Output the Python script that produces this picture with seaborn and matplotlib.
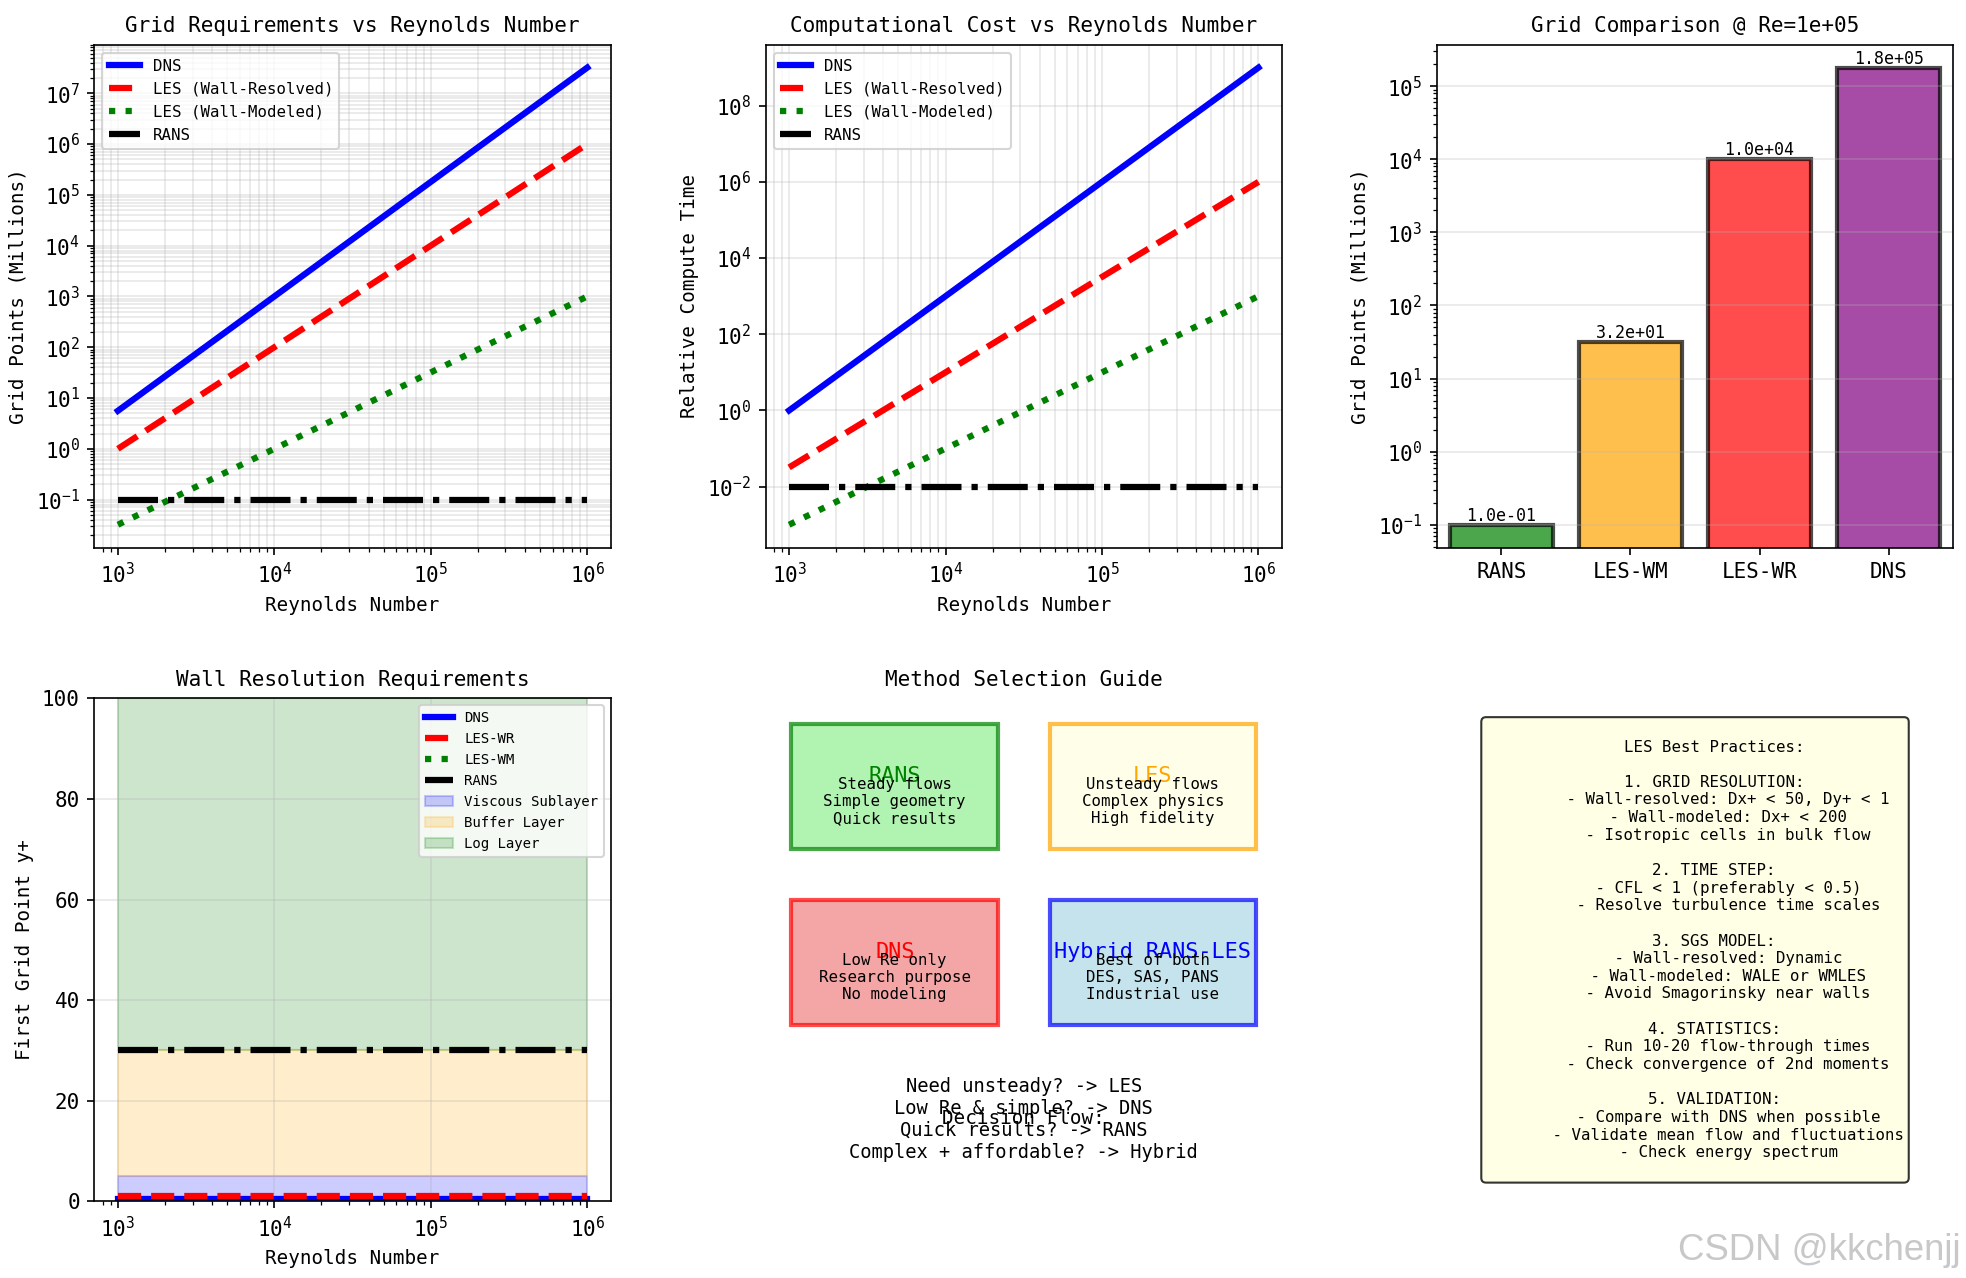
import matplotlib
matplotlib.use('Agg')
import matplotlib.pyplot as plt
from matplotlib import font_manager
from matplotlib.patches import Rectangle
import seaborn as sns

# ==========================================
# DATA
# ==========================================
re_pts = [1e3, 1e4, 1e5, 1e6]

# grid points in millions
grid_dns = [5.6, 1.0e3, 1.8e5, 3.2e7]
grid_les_wr = [1.0, 1.0e2, 1.0e4, 1.0e6]
grid_les_wm = [0.032, 1.0, 32.0, 1.0e3]
grid_rans = [0.1, 0.1, 0.1, 0.1]

# relative compute time
cost_dns = [1.0, 1.0e3, 1.0e6, 1.0e9]
cost_les_wr = [0.032, 10.0, 3.2e3, 1.0e6]
cost_les_wm = [1.0e-3, 0.1, 10.0, 1.0e3]
cost_rans = [0.01, 0.01, 0.01, 0.01]

# grid comparison at Re = 1e5
bar_methods = ['RANS', 'LES-WM', 'LES-WR', 'DNS']
bar_values = [0.1, 32.0, 1.0e4, 1.8e5]
bar_colors = ['green', 'orange', 'red', 'purple']

# first grid point y+
yplus_dns = [0.5, 0.5, 0.5, 0.5]
yplus_les_wr = [1.0, 1.0, 1.0, 1.0]
yplus_les_wm = [150.0, 150.0, 150.0, 150.0]
yplus_rans = [30.0, 30.0, 30.0, 30.0]
layer_names = ['Viscous Sublayer', 'Buffer Layer', 'Log Layer']
layer_bounds = [(0, 5), (5, 30), (30, 100)]
layer_colors = ['blue', 'orange', 'green']

# method selection guide
guide_names = ['RANS', 'LES', 'DNS', 'Hybrid RANS-LES']
guide_desc = ['Steady flows\nSimple geometry\nQuick results',
              'Unsteady flows\nComplex physics\nHigh fidelity',
              'Low Re only\nResearch purpose\nNo modeling',
              'Best of both\nDES, SAS, PANS\nIndustrial use']
guide_face = ['lightgreen', 'lightyellow', 'lightcoral', 'lightblue']
guide_edge = ['green', 'orange', 'red', 'blue']
guide_xy = [(0.5, 7), (5.5, 7), (0.5, 3.5), (5.5, 3.5)]
decision_text = ('Need unsteady? -> LES\nLow Re & simple? -> DNS\n'
                 'Quick results? -> RANS\nComplex + affordable? -> Hybrid')

practices = """
    LES Best Practices:

    1. GRID RESOLUTION:
       - Wall-resolved: Dx+ < 50, Dy+ < 1
       - Wall-modeled: Dx+ < 200
       - Isotropic cells in bulk flow

    2. TIME STEP:
       - CFL < 1 (preferably < 0.5)
       - Resolve turbulence time scales

    3. SGS MODEL:
       - Wall-resolved: Dynamic
       - Wall-modeled: WALE or WMLES
       - Avoid Smagorinsky near walls

    4. STATISTICS:
       - Run 10-20 flow-through times
       - Check convergence of 2nd moments

    5. VALIDATION:
       - Compare with DNS when possible
       - Validate mean flow and fluctuations
       - Check energy spectrum
    """

# ==========================================
# FONTS
# ==========================================
names = {f.name for f in font_manager.fontManager.ttflist}
if 'Noto Sans Mono CJK SC' in names:
    main_font, k = 'Noto Sans Mono CJK SC', 1.0
else:
    main_font, k = 'DejaVu Sans Mono', 0.84
plt.rcParams['font.family'] = [main_font, 'DejaVu Sans']

fig, axes = plt.subplots(2, 3, figsize=(13.113, 8.52))
plt.subplots_adjust(left=0.048, right=0.993, bottom=0.06, top=0.965,
                    wspace=0.30, hspace=0.30)

styles = [('DNS', 'blue', '-'), ('LES (Wall-Resolved)', 'red', '--'),
          ('LES (Wall-Modeled)', 'green', ':'), ('RANS', 'black', '-.')]

# 1. grid requirements
ax = axes[0, 0]
for (lab, col, ls), vals in zip(styles, [grid_dns, grid_les_wr, grid_les_wm, grid_rans]):
    sns.lineplot(x=re_pts, y=vals, ax=ax, color=col, linestyle=ls, linewidth=3, label=lab)
ax.set_xscale('log')
ax.set_yscale('log')
ax.set_xlabel('Reynolds Number', fontsize=11 * k)
ax.set_ylabel('Grid Points (Millions)', fontsize=11 * k)
ax.set_title('Grid Requirements vs Reynolds Number', fontsize=12 * k)
ax.legend(fontsize=9 * k, loc='upper left')
ax.grid(True, which='both', alpha=0.3)

# 2. computational cost
ax = axes[0, 1]
for (lab, col, ls), vals in zip(styles, [cost_dns, cost_les_wr, cost_les_wm, cost_rans]):
    sns.lineplot(x=re_pts, y=vals, ax=ax, color=col, linestyle=ls, linewidth=3, label=lab)
ax.set_xscale('log')
ax.set_yscale('log')
ax.set_xlabel('Reynolds Number', fontsize=11 * k)
ax.set_ylabel('Relative Compute Time', fontsize=11 * k)
ax.set_title('Computational Cost vs Reynolds Number', fontsize=12 * k)
ax.legend(fontsize=9 * k, loc='upper left')
ax.grid(True, which='both', alpha=0.3)

# 3. grid comparison bars
ax = axes[0, 2]
sns.barplot(x=bar_methods, y=bar_values, hue=bar_methods, palette=bar_colors,
            saturation=1, legend=False, alpha=0.7, edgecolor='black', linewidth=2, ax=ax)
ax.set_yscale('log')
for i, v in enumerate(bar_values):
    ax.text(i, v, f'{v:.1e}', ha='center', va='bottom', fontsize=9.5 * k)
ax.set_ylabel('Grid Points (Millions)', fontsize=11 * k)
ax.set_title('Grid Comparison @ Re=1e+05', fontsize=12 * k)
ax.grid(True, axis='y', alpha=0.3)

# 4. wall resolution
ax = axes[1, 0]
yp_labels = ['DNS', 'LES-WR', 'LES-WM', 'RANS']
for (lab, col, ls), name, vals in zip(styles, yp_labels,
                                      [yplus_dns, yplus_les_wr, yplus_les_wm, yplus_rans]):
    sns.lineplot(x=re_pts, y=vals, ax=ax, color=col, linestyle=ls, linewidth=3, label=name)
for name, (lo, hi), col in zip(layer_names, layer_bounds, layer_colors):
    ax.fill_between([re_pts[0], re_pts[-1]], lo, hi, color=col, alpha=0.2, label=name)
ax.set_xscale('log')
ax.set_ylim(0, 100)
ax.set_xlabel('Reynolds Number', fontsize=11 * k)
ax.set_ylabel('First Grid Point y+', fontsize=11 * k)
ax.set_title('Wall Resolution Requirements', fontsize=12 * k)
ax.legend(fontsize=8 * k, loc='upper right')
ax.grid(True, alpha=0.3)

# 5. method selection guide
ax = axes[1, 1]
ax.set_xlim(0, 10)
ax.set_ylim(0, 10)
ax.axis('off')
ax.set_title('Method Selection Guide', fontsize=12 * k)
for name, desc, fc, ec, (x, y) in zip(guide_names, guide_desc, guide_face, guide_edge, guide_xy):
    ax.add_patch(Rectangle((x, y), 4, 2.5, facecolor=fc, edgecolor=ec, linewidth=2, alpha=0.7))
    ax.text(x + 2, y + 1.45, name, ha='center', va='center', fontsize=12.5 * k, color=ec)
    ax.text(x + 2, y + 0.95, desc, ha='center', va='center', fontsize=9 * k)
ax.text(5, 1.65, 'Decision Flow:', ha='center', va='center', fontsize=11 * k)
ax.text(5, 1.63, decision_text, ha='center', va='center', fontsize=9, family='DejaVu Sans Mono')

# 6. best practices
ax = axes[1, 2]
ax.axis('off')
ax.text(0.5, 0.5, practices, transform=ax.transAxes, ha='center', va='center',
        fontsize=9 * k, linespacing=1.22,
        bbox=dict(boxstyle='round', facecolor='lightyellow', alpha=0.8))

fig.text(0.997, 0.008, 'CSDN @kkchenjj', ha='right', va='bottom', fontsize=17.5,
         color='#c8c8c8', family='Liberation Sans')

plt.savefig('out.png', dpi=150)
plt.close()
